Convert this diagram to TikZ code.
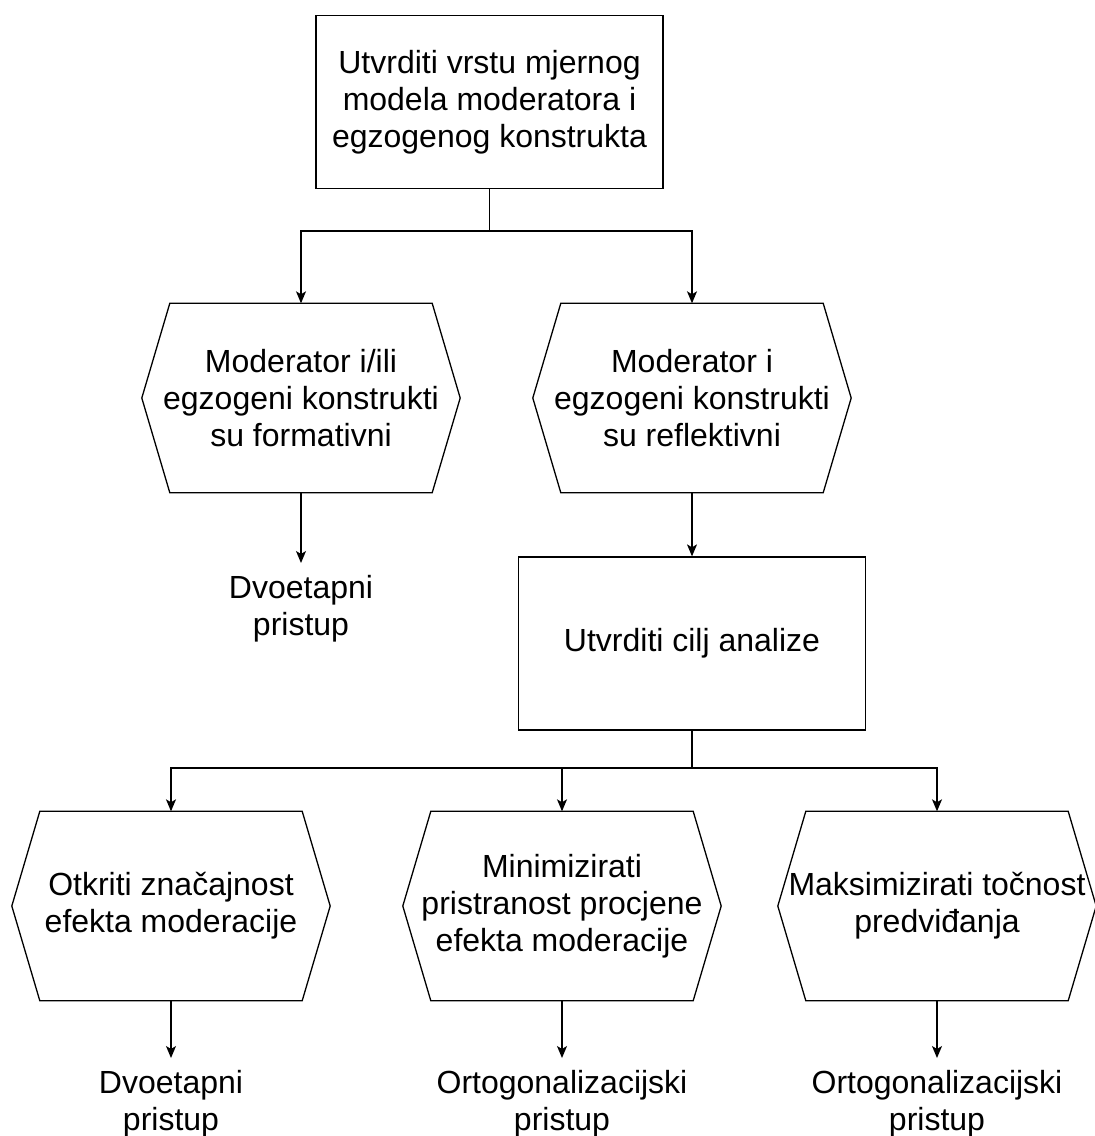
\documentclass[tikz,border=0pt]{standalone}
\usepackage{fontspec}
\setmainfont{Liberation Sans}
\usetikzlibrary{arrows.meta}
\begin{document}
\begin{tikzpicture}[x=1pt,y=-1pt,
  every node/.style={font=\fontsize{32}{37}\selectfont, align=center},
  box/.style={draw, line width=1.3pt, minimum width=347pt, minimum height=173pt, inner sep=0pt},
  hexa/.style={minimum width=318pt, minimum height=189pt, inner sep=0pt},
  lbl/.style={inner xsep=0pt, inner ysep=12pt},
  conn/.style={line width=1.3pt, -{Stealth[length=12pt,width=10pt,inset=3pt]}},
  plain/.style={line width=1.3pt},
]
\fill[white] (0,0) rectangle (1095,1136);
\useasboundingbox (0,0) rectangle (1095,1136);

\node[box] (a) at (489.5,102) {Utvrditi vrstu mjernog\\modela moderatora i\\egzogenog konstrukta};
\node[hexa] (b) at (301,398) {Moderator i/ili\\egzogeni konstrukti\\su formativni};
\node[hexa] (c) at (692,398) {Moderator i\\egzogeni konstrukti\\su reflektivni};
\node[lbl, anchor=north] (d) at (301,563) {Dvoetapni\\pristup};
\node[box] (e) at (692,643.5) {Utvrditi cilj analize};
\node[hexa] (f) at (171,906) {Otkriti značajnost\\efekta moderacije};
\node[hexa] (g) at (562,906) {Minimizirati\\pristranost procjene\\efekta moderacije};
\node[hexa] (h) at (937,906) {Maksimizirati točnost\\predviđanja};
\node[lbl, anchor=north] (i) at (171,1058) {Dvoetapni\\pristup};
\node[lbl, anchor=north] (k) at (562,1058) {Ortogonalizacijski\\pristup};
\node[lbl, anchor=north] (l) at (937,1058) {Ortogonalizacijski\\pristup};

\foreach \n in {b,c,f,g,h}
  \draw[plain, line join=miter] ([xshift=28pt]\n.north west) -- ([xshift=-28pt]\n.north east) -- (\n.east)
     -- ([xshift=-28pt]\n.south east) -- ([xshift=28pt]\n.south west) -- (\n.west) -- cycle;

\coordinate (j1) at (a.south |- 0,231);
\draw[plain] (a.south) -- (j1);
\draw[conn] (j1) -| (b.north);
\draw[conn] (j1) -| (c.north);
\draw[conn] (b.south) -- (d.north);
\draw[conn] (c.south) -- (e.north);

\coordinate (j2) at (e.south |- 0,768);
\draw[plain] (e.south) -- (j2);
\draw[conn] (j2) -| (f.north);
\draw[conn] (j2) -| (g.north);
\draw[conn] (j2) -| (h.north);
\draw[conn] (f.south) -- (i.north);
\draw[conn] (g.south) -- (k.north);
\draw[conn] (h.south) -- (l.north);
\end{tikzpicture}
\end{document}
